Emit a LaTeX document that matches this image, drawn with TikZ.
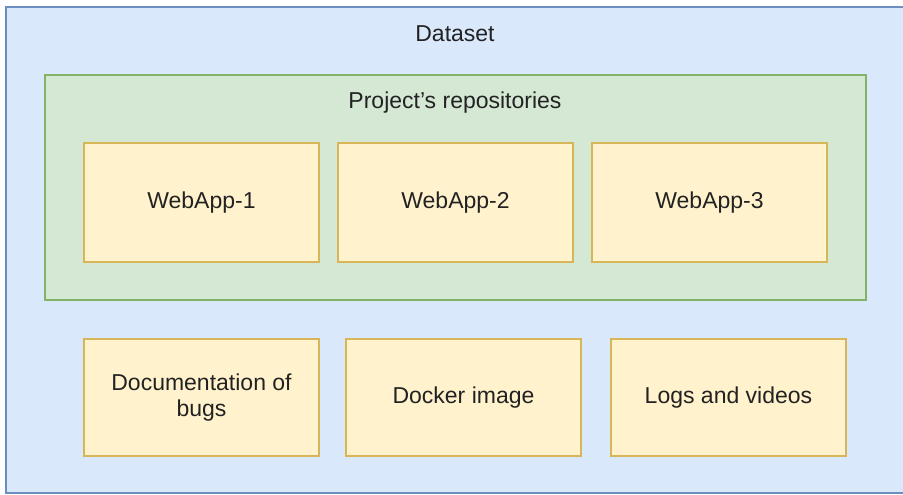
\documentclass[tikz,border=0pt]{standalone}
\usepackage{fontspec}
\setmainfont{Liberation Sans}
\definecolor{bfill}{HTML}{DAE8FC}
\definecolor{bdraw}{HTML}{6C8EBF}
\definecolor{gfill}{HTML}{D5E8D4}
\definecolor{gdraw}{HTML}{82B366}
\definecolor{yfill}{HTML}{FFF2CC}
\definecolor{ydraw}{HTML}{D6B656}
\definecolor{txt}{HTML}{222222}
\begin{document}
\begin{tikzpicture}[x=1pt,y=-1pt,
  outerbox/.style={fill=bfill,draw=bdraw,line width=1.6pt},
  repobox/.style={fill=gfill,draw=gdraw,line width=1.6pt},
  itembox/.style={fill=yfill,draw=ydraw,line width=1.6pt},
  lbl/.style={text=txt,font=\fontsize{23}{26}\selectfont,align=center}]
\useasboundingbox (0,0) rectangle (903,495);
\fill[white] (0,0) rectangle (903,495);
\draw[outerbox] (6,7) rectangle (906,493);
\node[lbl] (dataset) at (455,34) {Dataset};
\draw[repobox] (45,75) rectangle (866,300);
\node[lbl] (repos) at (455,103) {Project's repositories};
\draw[itembox] (84,143) rectangle (319,262);
\node[lbl] (w1) at (201.5,203) {WebApp-1};
\draw[itembox] (338,143) rectangle (573,262);
\node[lbl] (w2) at (455.5,203) {WebApp-2};
\draw[itembox] (592,143) rectangle (827,262);
\node[lbl] (w3) at (709.5,203) {WebApp-3};
\draw[itembox] (84,339) rectangle (319,456);
\node[lbl] (doc) at (201.5,398) {Documentation of\\bugs};
\draw[itembox] (346,339) rectangle (581,456);
\node[lbl] (docker) at (463.5,398) {Docker image};
\draw[itembox] (611,339) rectangle (846,456);
\node[lbl] (logs) at (728.5,398) {Logs and videos};
\end{tikzpicture}
\end{document}
